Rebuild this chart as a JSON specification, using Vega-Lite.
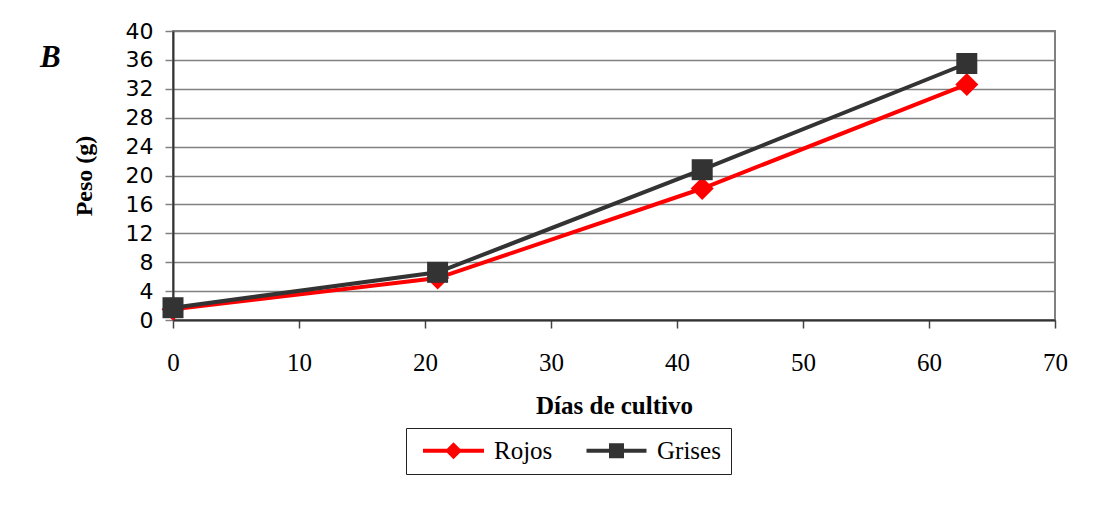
{
  "$schema": "https://vega.github.io/schema/vega-lite/v6.json",
  "width": 882,
  "height": 289,
  "autosize": {"type": "none"},
  "padding": {"left": 173, "top": 31, "right": 45, "bottom": 186},
  "background": "white",
  "title": {
    "text": "B",
    "anchor": "start",
    "frame": "group",
    "font": "Liberation Serif",
    "fontSize": 31,
    "fontStyle": "italic",
    "fontWeight": "bold",
    "color": "black",
    "baseline": "alphabetic",
    "offset": 0,
    "dx": -133,
    "dy": 78
  },
  "data": {
    "values": [
      {"dia": 0, "peso": 1.5, "serie": "Rojos"},
      {"dia": 21, "peso": 5.8, "serie": "Rojos"},
      {"dia": 42, "peso": 18.2, "serie": "Rojos"},
      {"dia": 63, "peso": 32.6, "serie": "Rojos"},
      {"dia": 0, "peso": 1.7, "serie": "Grises"},
      {"dia": 21, "peso": 6.6, "serie": "Grises"},
      {"dia": 42, "peso": 20.8, "serie": "Grises"},
      {"dia": 63, "peso": 35.5, "serie": "Grises"}
    ]
  },
  "encoding": {
    "x": {
      "field": "dia",
      "type": "quantitative",
      "scale": {"domain": [0, 70], "nice": false, "zero": false},
      "axis": {
        "title": "Días de cultivo",
        "values": [0, 10, 20, 30, 40, 50, 60, 70],
        "grid": false,
        "domainColor": "#333333",
        "domainWidth": 2,
        "tickColor": "#444444",
        "tickWidth": 1.5,
        "tickSize": 8,
        "labelFont": "Liberation Serif",
        "labelFontSize": 25,
        "labelColor": "black",
        "labelPadding": 22,
        "labelFlush": false,
        "titleFont": "Liberation Serif",
        "titleFontSize": 25,
        "titleFontWeight": "bold",
        "titleColor": "black",
        "titlePadding": 18
      }
    },
    "y": {
      "field": "peso",
      "type": "quantitative",
      "scale": {"domain": [0, 40], "nice": false},
      "axis": {
        "title": "Peso (g)",
        "values": [0, 4, 8, 12, 16, 20, 24, 28, 32, 36, 40],
        "grid": true,
        "gridColor": "#808080",
        "gridWidth": 1.5,
        "domainColor": "#333333",
        "domainWidth": 2,
        "tickColor": "#808080",
        "tickWidth": 1.5,
        "tickSize": 8,
        "labelFont": "DejaVu Sans",
        "labelFontSize": 22,
        "labelColor": "black",
        "labelPadding": 12,
        "labelFlush": false,
        "titleFont": "Liberation Serif",
        "titleFontSize": 24,
        "titleFontWeight": "bold",
        "titleColor": "black",
        "titlePadding": 29
      }
    }
  },
  "layer": [
    {
      "mark": {"type": "line", "strokeWidth": 4},
      "encoding": {
        "color": {
          "field": "serie",
          "type": "nominal",
          "scale": {"domain": ["Rojos", "Grises"], "range": ["#ff0000", "#333333"]},
          "legend": {
            "title": null,
            "orient": "none",
            "direction": "horizontal",
            "legendX": 233,
            "legendY": 397,
            "padding": 10,
            "strokeColor": "#222222",
            "fillColor": "white",
            "cornerRadius": 0,
            "symbolSize": 400,
            "symbolOffset": 25,
            "symbolStrokeWidth": 0,
            "labelOffset": 28,
            "columnPadding": 26,
            "labelFont": "Liberation Serif",
            "labelFontSize": 25,
            "labelColor": "black",
            "encode": {
              "symbols": {
                "update": {
                  "shape": {"signal": "datum.value === 'Rojos' ? 'M-3.05,-0.2H3.05V0.2H-3.05Z M0,-0.85L0.85,0L0,0.85L-0.85,0Z' : 'M-3.0,-0.2H3.0V0.2H-3.0Z M-0.75,-0.75H0.75V0.75H-0.75Z'"},
                  "fill": {"signal": "datum.value === 'Rojos' ? '#ff0000' : '#333333'"},
                  "fillOpacity": {"value": 1},
                  "strokeWidth": {"value": 0}
                }
              }
            }
          }
        }
      }
    },
    {
      "transform": [{"filter": "datum.serie === 'Rojos'"}],
      "mark": {"type": "point", "shape": "diamond", "filled": true, "color": "#ff0000", "opacity": 1, "strokeWidth": 0, "size": 529}
    },
    {
      "transform": [{"filter": "datum.serie === 'Grises'"}],
      "mark": {"type": "point", "shape": "square", "filled": true, "color": "#333333", "opacity": 1, "strokeWidth": 0, "size": 441}
    }
  ],
  "config": {
    "view": {"stroke": "#808080", "strokeWidth": 2}
  }
}
